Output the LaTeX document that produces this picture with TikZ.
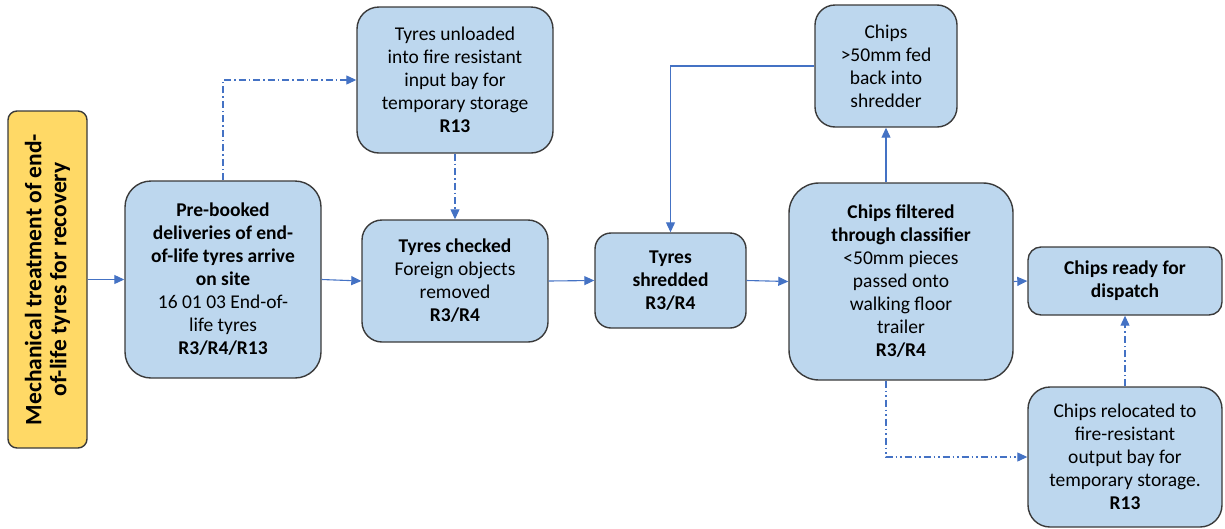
\documentclass[tikz,border=0pt]{standalone}
\usepackage{fontspec}
\setmainfont{Carlito}
\usetikzlibrary{arrows.meta}
\definecolor{boxfill}{HTML}{BDD7EE}
\definecolor{boxline}{HTML}{3A3A3A}
\definecolor{flowline}{HTML}{4472C4}
\definecolor{titlefill}{HTML}{FFD966}
\tikzset{
  stage/.style={draw=boxline, line width=1.4pt, fill=boxfill, align=center,
    font=\fontsize{19.5}{23}\selectfont, inner sep=0pt},
  flow/.style={draw=flowline, line width=1.1pt,
    -{Triangle[length=10pt,width=9pt]}},
  dashdot/.style={flow, dash pattern=on 7pt off 3pt on 1.5pt off 3pt},
  dashdotdot/.style={flow, dash pattern=on 7pt off 3pt on 1.5pt off 3pt on 1.5pt off 3pt},
}
\begin{document}
\begin{tikzpicture}[x=1pt,y=-1pt]
\useasboundingbox (0,0) rectangle (1225,528);

% title bar
\node[draw=boxline, line width=1.4pt, fill=titlefill, rounded corners=9pt,
  minimum width=79pt, minimum height=337pt, inner sep=0pt] (yel) at (47.5,279.5) {};
\node[rotate=90, align=center, font=\fontsize{23.5}{25}\selectfont\bfseries]
  (yeltxt) at (yel.center) {Mechanical treatment of end-\\of-life tyres for recovery};

% process stages
\node[stage, rounded corners=26pt, minimum width=196pt, minimum height=197pt]
  (pre) at (223,279.5)
  {\textbf{Pre-booked}\\\textbf{deliveries of end-}\\\textbf{of-life tyres arrive}\\\textbf{on site}\\16 01 03 End-of-\\life tyres\\\textbf{R3/R4/R13}};
\node[stage, rounded corners=22pt, minimum width=196pt, minimum height=146pt]
  (unl) at (455,80)
  {Tyres unloaded\\into fire resistant\\input bay for\\temporary storage\\\textbf{R13}};
\node[stage, rounded corners=20pt, minimum width=186pt, minimum height=122pt]
  (chk) at (455,281)
  {\textbf{Tyres checked}\\Foreign objects\\removed\\\textbf{R3/R4}};
\node[stage, rounded corners=16pt, minimum width=151pt, minimum height=95pt]
  (shr) at (670.5,280.5)
  {\textbf{Tyres}\\\textbf{shredded}\\\textbf{R3/R4}};
\node[stage, rounded corners=20pt, minimum width=142pt, minimum height=122pt]
  (fb) at (886,66)
  {Chips\\>50mm fed\\back into\\shredder};
\node[stage, rounded corners=30pt, minimum width=224pt, minimum height=197pt]
  (flt) at (901,281.5)
  {\textbf{Chips filtered}\\\textbf{through classifier}\\<50mm pieces\\passed onto\\walking floor\\trailer\\\textbf{R3/R4}};
\node[stage, rounded corners=13pt, minimum width=194pt, minimum height=68pt]
  (rdy) at (1125,281)
  {\textbf{Chips ready for}\\\textbf{dispatch}};
\node[stage, rounded corners=22pt, minimum width=194pt, minimum height=140pt]
  (rel) at (1125,457)
  {Chips relocated to\\fire-resistant\\output bay for\\temporary storage.\\\textbf{R13}};

% connectors
\draw[flow] (yel.east) -- (pre.west);
\draw[flow] (pre.east) -- (chk.west);
\draw[dashdot] (pre.north) |- (unl.west);
\draw[dashdot] (unl.south) -- (chk.north);
\draw[flow] (chk.east) -- (shr.west);
\draw[flow] (shr.east) -- (flt.west);
\draw[flow] (flt.north -| fb.south) -- (fb.south);
\draw[flow] (fb.west) -| (shr.north);
\draw[flow] (flt.east) -- (rdy.west);
\draw[dashdotdot] (flt.south -| fb.south) |- (rel.west);
\draw[dashdot] (rel.north) -- (rdy.south);
\end{tikzpicture}
\end{document}
